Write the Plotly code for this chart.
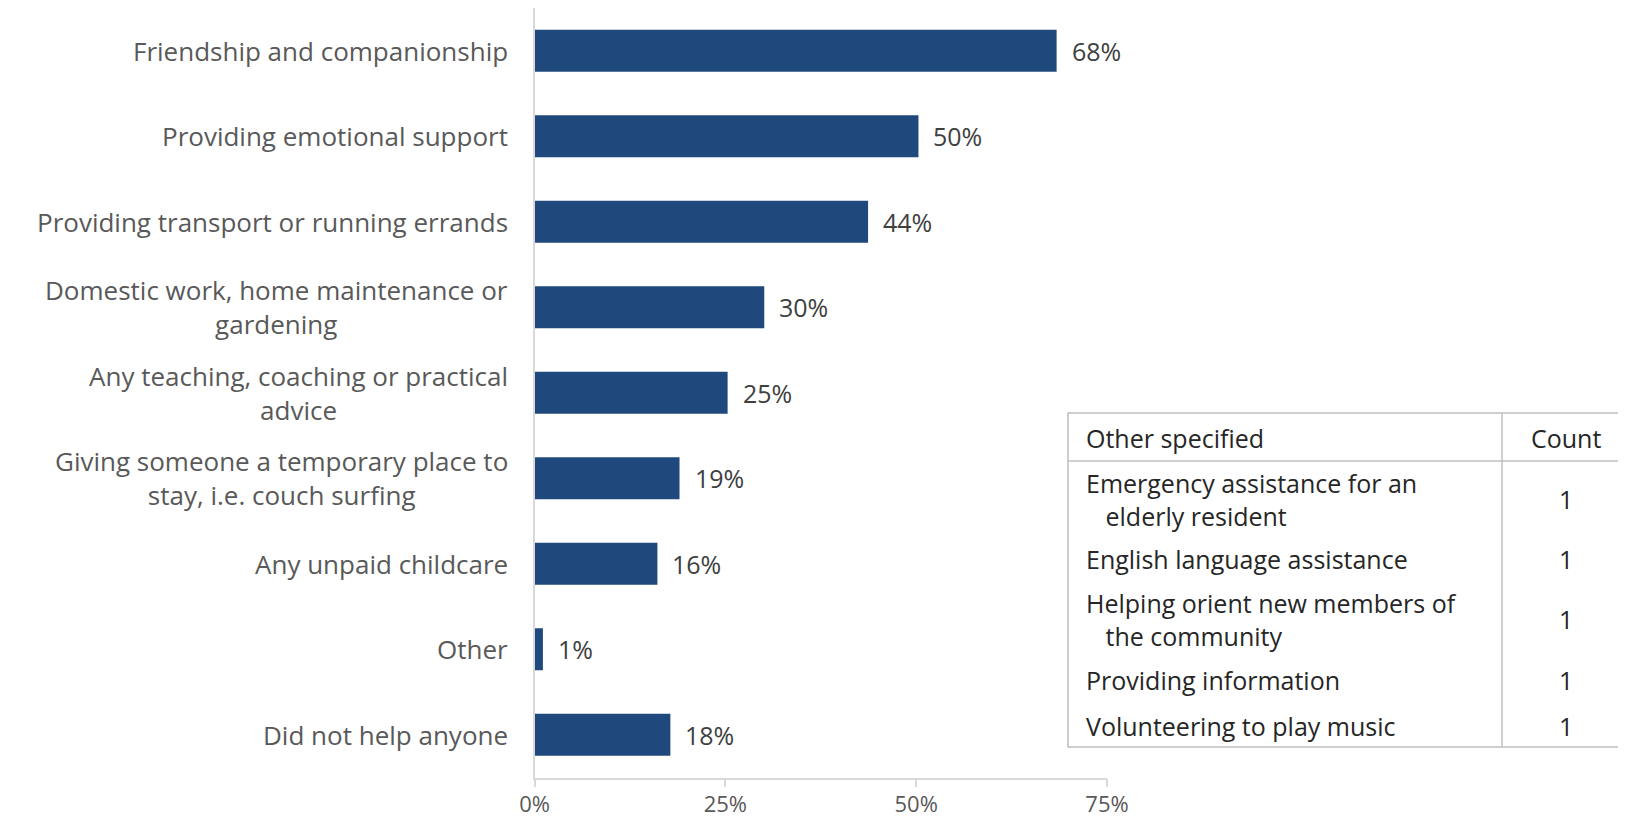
import plotly.graph_objects as go

# ---------------- data ----------------
categories = [
    "Friendship and companionship",
    "Providing emotional support",
    "Providing transport or running errands",
    "Domestic work, home maintenance or<br>gardening",
    "Any teaching, coaching or practical<br>advice",
    "Giving someone a temporary place to<br>stay, i.e. couch surfing",
    "Any unpaid childcare",
    "Other",
    "Did not help anyone",
]
values = [68.4, 50.3, 43.7, 30.1, 25.3, 19.0, 16.1, 1.1, 17.8]
value_labels = ["68%", "50%", "44%", "30%", "25%", "19%", "16%", "1%", "18%"]

x_tickvals = [0, 25, 50, 75]
x_ticktext = ["0%", "25%", "50%", "75%"]

table_header = ["Other specified", "Count"]
other_specified = [
    "Emergency assistance for an<br>elderly resident",
    "English language assistance",
    "Helping orient new members of<br>the community",
    "Providing information",
    "Volunteering to play music",
]
other_counts = ["1", "1", "1", "1", "1"]

# ---------------- layout helpers ----------------
OFF = 8  # page body margin
W, H = 1626 - OFF, 820 - OFF
FONT = "Open Sans"
BAR_COLOR = "#1F497D"
AXIS_COLOR = "#D9D9D9"
LABEL_COLOR = "#595959"


def px(x):
    return (x - OFF) / W


def py(y):
    return min(1.0, max(0.0, 1 - (y - OFF) / H))


plot_left, plot_right = 534.5, 1107
plot_top, plot_bottom = 8, 777.5

fig = go.Figure()
fig.add_trace(go.Bar(
    x=values,
    y=categories,
    orientation="h",
    marker=dict(color=BAR_COLOR, line=dict(width=0)),
    width=0.49,
    hoverinfo="skip",
))

annotations = []
# category labels (centred multi-line, right-aligned block)
for c in categories:
    annotations.append(dict(
        x=px(plot_left - 25), xref="paper", y=c, yref="y",
        text=c, showarrow=False, xanchor="right", yanchor="middle",
        align="center", font=dict(family=FONT, size=26, color=LABEL_COLOR),
    ))
# value labels
for c, v, t in zip(categories, values, value_labels):
    annotations.append(dict(
        x=v, xref="x", y=c, yref="y", text=t, showarrow=False,
        xanchor="left", yanchor="middle", xshift=13,
        font=dict(family=FONT, size=25, color="#404040"),
    ))

# ---------------- table ----------------
tbl_left, tbl_right = 1068, 1660
tbl_top, tbl_bottom = 413, 747
col_div = 1502
header_bottom = 461
TBL_LINE = "#BFBFBF"
shapes = [
    dict(type="rect", xref="paper", yref="paper",
         x0=px(tbl_left), x1=px(tbl_right), y0=py(tbl_bottom), y1=py(tbl_top),
         line=dict(color=TBL_LINE, width=1.5), fillcolor="rgba(0,0,0,0)"),
    dict(type="line", xref="paper", yref="paper",
         x0=px(tbl_left), x1=px(tbl_right), y0=py(header_bottom), y1=py(header_bottom),
         line=dict(color=TBL_LINE, width=1.5)),
    dict(type="line", xref="paper", yref="paper",
         x0=px(col_div), x1=px(col_div), y0=py(tbl_bottom), y1=py(tbl_top),
         line=dict(color=TBL_LINE, width=1.5)),
]
TBL_FONT = dict(family=FONT, size=25, color="#262626")
text_x = 1084
count_x = 1566
annotations.append(dict(x=px(text_x), y=py(438), xref="paper", yref="paper",
                        text=table_header[0], showarrow=False, xanchor="left",
                        yanchor="middle", font=TBL_FONT))
annotations.append(dict(x=px(count_x), y=py(438), xref="paper", yref="paper",
                        text=table_header[1], showarrow=False, xanchor="center",
                        yanchor="middle", font=TBL_FONT))
row_centers = [499, 559, 619, 680, 726]
for lab, cnt, yc in zip(other_specified, other_counts, row_centers):
    annotations.append(dict(
        x=px(text_x), y=py(yc), xref="paper", yref="paper",
        text=lab.replace("<br>", "<br>&nbsp;&nbsp;&nbsp;"), showarrow=False,
        xanchor="left", yanchor="middle", align="left", font=TBL_FONT))
    annotations.append(dict(
        x=px(count_x), y=py(yc), xref="paper", yref="paper",
        text=cnt, showarrow=False, xanchor="center", yanchor="middle",
        font=TBL_FONT))

fig.update_layout(
    width=W, height=H,
    margin=dict(l=0, r=0, t=0, b=0),
    paper_bgcolor="white", plot_bgcolor="white",
    showlegend=False,
    xaxis=dict(
        domain=[px(plot_left), px(plot_right)],
        range=[0, 75], tickvals=x_tickvals, ticktext=x_ticktext,
        showgrid=False, zeroline=False, showline=True, linecolor=AXIS_COLOR,
        linewidth=1.5, ticks="outside", ticklen=8, tickcolor=AXIS_COLOR,
        tickwidth=1.5, automargin=False, ticklabelstandoff=-2,
        tickfont=dict(family=FONT, size=22, color=LABEL_COLOR),
    ),
    yaxis=dict(
        domain=[py(plot_bottom), py(plot_top)],
        categoryorder="array", categoryarray=categories, autorange="reversed",
        showticklabels=False, showgrid=False, zeroline=False,
        showline=True, linecolor=AXIS_COLOR, linewidth=1.5, ticks="",
        automargin=False,
    ),
    annotations=annotations,
    shapes=shapes,
)

fig.write_html("out.html")
